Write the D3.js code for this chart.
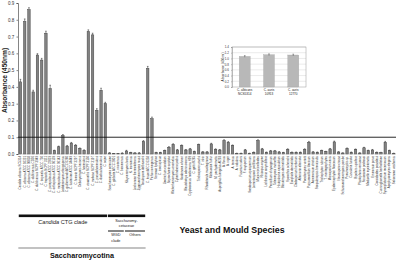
<!DOCTYPE html>
<head>
<meta charset="utf-8">
<script src="https://d3js.org/d3.v7.min.js"></script>
<style>
  body { margin:0; background:#fff; }
  svg { font-family: "Liberation Sans", Arial, sans-serif; }
</style>
</head>
<body>
<div id="chart"></div>
<script>

// ******************** Data ************************
var species = [
  "Candida albicans SC5314", "C. albicans ATCC 10231", "C. albicans ATCC 90028", "C. dubliniensis CD36",
  "C. dubliniensis NCPF 3949", "C. tropicalis ATCC 750", "C. tropicalis NCPF 3111", "C. parapsilosis ATCC 22019",
  "C. orthopsilosis ATCC 96139", "C. metapsilosis ATCC 96143", "Lodderomyces elongisporus", "C. guilliermondii ATCC 6260",
  "C. lusitaniae ATCC 34449", "C. famata NCPF 3297", "Debaryomyces hansenii", "C. haemulonii",
  "C. viswanathii NCPF 3150", "C. maltosa NCPF 3197", "C. pseudohaemulonii", "C. duobushaemulonii", "C. sojae",
  "Saccharomyces cerevisiae", "C. glabrata ATCC 2001", "C. nivariensis", "C. bracarensis",
  "Kluyveromyces lactis", "K. marxianus", "Lachancea thermotolerans", "Zygosaccharomyces rouxii", "Torulaspora delbrueckii",
  "C. krusei ATCC 6258", "Pichia norvegensis", "Yarrowia lipolytica", "C. inconspicua", "Geotrichum candidum",
  "Saprochaete capitata", "Wickerhamomyces anomalus", "Cyberlindnera jadinii", "Kodamaea ohmeri", "Blastobotrys adeninivorans",
  "Cryptococcus neoformans H99", "C. gattii R265", "Trichosporon asahii", "T. inkin", "Rhodotorula mucilaginosa",
  "Malassezia furfur", "M. pachydermatis", "Aspergillus fumigatus Af293", "A. flavus", "A. niger",
  "A. terreus", "A. nidulans", "Fusarium solani", "F. oxysporum", "Scedosporium apiospermum",
  "Lomentospora prolificans", "Mucor circinelloides", "Rhizopus oryzae", "Lichtheimia corymbifera", "Penicillium chrysogenum",
  "Talaromyces marneffei", "Histoplasma capsulatum", "Blastomyces dermatitidis", "Sporothrix schenckii", "Exophiala dermatitidis",
  "Cladosporium herbarum", "Alternaria alternata", "Paecilomyces variotii", "Purpureocillium lilacinum", "Acremonium strictum",
  "Scopulariopsis brevicaulis", "Trichophyton rubrum", "T. mentagrophytes", "Microsporum canis", "Epidermophyton floccosum",
  "Neurospora crassa", "Schizosaccharomyces pombe", "Pneumocystis sp.", "Curvularia lunata", "Bipolaris spicifera",
  "Phialophora verrucosa", "Fonsecaea pedrosoi", "Madurella mycetomatis", "Emmonsia parva", "Coccidioides posadasii",
  "Cunninghamella bertholletiae", "Syncephalastrum racemosum", "Apophysomyces elegans", "Saksenaea vasiformis"
];

var absorbance = [
  0.43, 0.79, 0.86, 0.37, 0.59, 0.56, 0.72, 0.39, 0.02, 0.043,
  0.11, 0.047, 0.065, 0.052, 0.033, 0.022, 0.73, 0.71, 0.26, 0.38,
  0.30, 0.006, 0.002, 0.002, 0.005, 0.018, 0.008, 0.006, 0.006, 0.075,
  0.51, 0.21, 0.008, 0.008, 0.02, 0.04, 0.057, 0.024, 0.05, 0.024,
  0.03, 0.014, 0.055, 0.012, 0.012, 0.06, 0.028, 0.024, 0.08, 0.07,
  0.05, 0.004, 0.004, 0.024, 0.004, 0.01, 0.08, 0.03, 0.01, 0.018,
  0.018, 0.012, 0.008, 0.028, 0.01, 0.01, 0.01, 0.028, 0.07, 0.012,
  0.01, 0.02, 0.014, 0.03, 0.072, 0.012, 0.006, 0.033, 0.01, 0.027,
  0.006, 0.037, 0.02, 0.024, 0.01, 0.008, 0.07, 0.02, 0.004
];

var errors = [
  0.015, 0.015, 0.012, 0.01, 0.008, 0.01, 0.012, 0.02, 0.003, 0.004,
  0.006, 0.004, 0.004, 0.004, 0.003, 0.003, 0.01, 0.01, 0.01, 0.012,
  0.008, 0.002, 0.001, 0.001, 0.002, 0.004, 0.002, 0.002, 0.002, 0.005,
  0.012, 0.01, 0.002, 0.002, 0.003, 0.004, 0.004, 0.003, 0.004, 0.003,
  0.003, 0.003, 0.004, 0.002, 0.002, 0.004, 0.003, 0.003, 0.005, 0.004,
  0.004, 0.001, 0.001, 0.003, 0.001, 0.002, 0.005, 0.003, 0.002, 0.003,
  0.003, 0.002, 0.002, 0.003, 0.002, 0.002, 0.002, 0.003, 0.005, 0.002,
  0.002, 0.003, 0.002, 0.003, 0.005, 0.002, 0.001, 0.003, 0.002, 0.003,
  0.001, 0.003, 0.003, 0.003, 0.002, 0.002, 0.005, 0.003, 0.001
];

var yTicks = [0, 0.1, 0.2, 0.3, 0.4, 0.5, 0.6, 0.7, 0.8, 0.9];
var cutoff = 0.1;

// inset
var insetStrains = ["C. albicans|NCS5314", "C. auris|10913", "C. auris|12770"];
var insetValues = [1.07, 1.13, 1.12];
var insetErrors = [0.03, 0.03, 0.03];
var insetTicks = [0, 0.2, 0.4, 0.6, 0.8, 1.0, 1.2, 1.4];

// clade brackets: [label, first bar, last bar]
var cladeTop = [["Candida CTG clade", 0, 20], ["Saccharomy-|cetaceae", 21, 29]];
var cladeSub = [["WGD|clade", 21, 24], ["Others", 25, 29]];
var cladeAll = [["Saccharomycotina", 0, 29]];

// ******************** Chart ************************
var W = 400, H = 262;
var svg = d3.select("#chart").append("svg").attr("width", W).attr("height", H);

var x = d3.scaleBand().domain(d3.range(species.length)).range([18.4, 395.8]).paddingInner(0.42).paddingOuter(0.2);
var y = d3.scaleLinear().domain([0, 0.9]).range([154, 3]);

// bars
svg.append("g").selectAll("rect")
  .data(absorbance).enter().append("rect")
  .attr("x", function (d, i) { return x(i); })
  .attr("y", function (d) { return y(d); })
  .attr("width", x.bandwidth())
  .attr("height", function (d) { return y(0) - y(d); })
  .attr("fill", "#828282")
  .attr("stroke", "#3a3a3a")
  .attr("stroke-width", 0.45);

// error bars
var eg = svg.append("g").attr("stroke", "#222").attr("stroke-width", 0.5);
absorbance.forEach(function (d, i) {
  var cx = x(i) + x.bandwidth() / 2;
  eg.append("line").attr("x1", cx).attr("x2", cx).attr("y1", y(d)).attr("y2", y(d + errors[i]));
  eg.append("line").attr("x1", cx - 0.8).attr("x2", cx + 0.8).attr("y1", y(d + errors[i])).attr("y2", y(d + errors[i]));
});

// y axis
var yAxis = svg.append("g")
  .attr("transform", "translate(18,0)")
  .call(d3.axisLeft(y).tickValues(yTicks).tickSize(1.5).tickFormat(d3.format(".1f")));
yAxis.selectAll("text").attr("font-size", 4.5).attr("dx", 0.8).attr("fill", "#333");
yAxis.selectAll("path, line").attr("stroke", "#333").attr("stroke-width", 0.6);

svg.append("text")
  .attr("transform", "translate(6.5," + (y(0.45) + 2) + ") rotate(-90)")
  .attr("text-anchor", "middle")
  .attr("font-size", 6.6).attr("font-weight", "bold").attr("fill", "#222")
  .text("Absorbance (450nm)");

// baseline and cutoff
svg.append("line").attr("x1", 18).attr("x2", 396).attr("y1", y(0)).attr("y2", y(0))
  .attr("stroke", "#999").attr("stroke-width", 0.4);
svg.append("line").attr("x1", 18).attr("x2", 396).attr("y1", y(cutoff)).attr("y2", y(cutoff))
  .attr("stroke", "#111").attr("stroke-width", 0.9);

// species labels
svg.append("g").selectAll("text")
  .data(species).enter().append("text")
  .attr("transform", function (d, i) {
    return "translate(" + (x(i) + x.bandwidth() / 2 + 1) + "," + (y(0) + 2) + ") rotate(-90)";
  })
  .attr("text-anchor", "end")
  .attr("font-size", 2.9).attr("fill", "#333")
  .text(function (d) { return d; });

// clade brackets
function bx0(i) { return x(i) - x.step() * x.paddingInner() / 2; }
function bx1(i) { return x(i) + x.bandwidth() + x.step() * x.paddingInner() / 2; }

function multiline(sel, label, cx, y0, size, lh) {
  label.split("|").forEach(function (s, k) {
    sel.append("text").attr("x", cx).attr("y", y0 + k * lh).attr("text-anchor", "middle")
      .attr("font-size", size).attr("fill", "#222").text(s);
  });
}

var gc = svg.append("g");
cladeTop.forEach(function (c) {
  gc.append("rect").attr("x", bx0(c[1]) + 0.4).attr("width", bx1(c[2]) - bx0(c[1]) - 0.8)
    .attr("y", 214.5).attr("height", 2.6).attr("fill", "#111");
});
var ctg = gc.append("text").attr("x", (bx0(0) + bx1(20)) / 2).attr("y", 224)
  .attr("text-anchor", "middle").attr("font-size", 5.6).attr("fill", "#222");
ctg.append("tspan").attr("font-style", "italic").text("Candida");
ctg.append("tspan").text(" CTG clade");
multiline(gc, cladeTop[1][0], (bx0(21) + bx1(29)) / 2, 222, 3.8, 5.2);

cladeSub.forEach(function (c) {
  gc.append("line").attr("x1", bx0(c[1]) + 0.6).attr("x2", bx1(c[2]) - 0.6)
    .attr("y1", 231).attr("y2", 231).attr("stroke", "#111").attr("stroke-width", 1);
  multiline(gc, c[0], (bx0(c[1]) + bx1(c[2])) / 2, 236, 3.8, 6);
});

cladeAll.forEach(function (c) {
  gc.append("line").attr("x1", bx0(c[1])).attr("x2", bx1(c[2]))
    .attr("y1", 248).attr("y2", 248).attr("stroke", "#333").attr("stroke-width", 0.6);
  gc.append("text").attr("x", (bx0(c[1]) + bx1(c[2])) / 2).attr("y", 258)
    .attr("text-anchor", "middle").attr("font-size", 7.2).attr("font-weight", "bold")
    .attr("fill", "#111").text(c[0]);
});

svg.append("text").attr("x", 232).attr("y", 233).attr("text-anchor", "middle")
  .attr("font-size", 8.8).attr("font-weight", "bold").attr("fill", "#111")
  .text("Yeast and Mould Species");

// ******************** Inset ************************
var ix = d3.scaleBand().domain(insetStrains).range([232, 306]).paddingInner(0.55).paddingOuter(0.3);
var iy = d3.scaleLinear().domain([0, 1.4]).range([87, 47]);
var gi = svg.append("g");

gi.append("g").selectAll("line").data(insetTicks.slice(1)).enter().append("line")
  .attr("x1", 232).attr("x2", 306)
  .attr("y1", function (d) { return iy(d); }).attr("y2", function (d) { return iy(d); })
  .attr("stroke", "#ccc").attr("stroke-width", 0.4);
gi.append("rect").attr("x", 232).attr("y", 47).attr("width", 74).attr("height", 40)
  .attr("fill", "none").attr("stroke", "#999").attr("stroke-width", 0.5);

gi.append("g").selectAll("rect").data(insetValues).enter().append("rect")
  .attr("x", function (d, i) { return ix(insetStrains[i]); })
  .attr("y", function (d) { return iy(d); })
  .attr("width", ix.bandwidth())
  .attr("height", function (d) { return iy(0) - iy(d); })
  .attr("fill", "#b8b8b8").attr("stroke", "#999").attr("stroke-width", 0.3);

insetValues.forEach(function (d, i) {
  var cx = ix(insetStrains[i]) + ix.bandwidth() / 2;
  gi.append("line").attr("x1", cx).attr("x2", cx).attr("y1", iy(d - insetErrors[i])).attr("y2", iy(d + insetErrors[i]))
    .attr("stroke", "#333").attr("stroke-width", 0.4);
  gi.append("line").attr("x1", cx - 0.8).attr("x2", cx + 0.8).attr("y1", iy(d + insetErrors[i])).attr("y2", iy(d + insetErrors[i]))
    .attr("stroke", "#333").attr("stroke-width", 0.4);
  multiline(gi, insetStrains[i], cx, 91, 3.1, 3.8);
});

var iAxis = gi.append("g").attr("transform", "translate(232,0)")
  .call(d3.axisLeft(iy).tickValues(insetTicks).tickSize(1).tickFormat(d3.format(".1f")));
iAxis.selectAll("text").attr("font-size", 3).attr("dx", 0.8).attr("fill", "#333");
iAxis.selectAll("path, line").attr("stroke", "#777").attr("stroke-width", 0.4);

gi.append("text").attr("transform", "translate(223.5,67) rotate(-90)").attr("text-anchor", "middle")
  .attr("font-size", 3.1).attr("fill", "#333").text("Absorbance (450nm)");

</script>
</body>
